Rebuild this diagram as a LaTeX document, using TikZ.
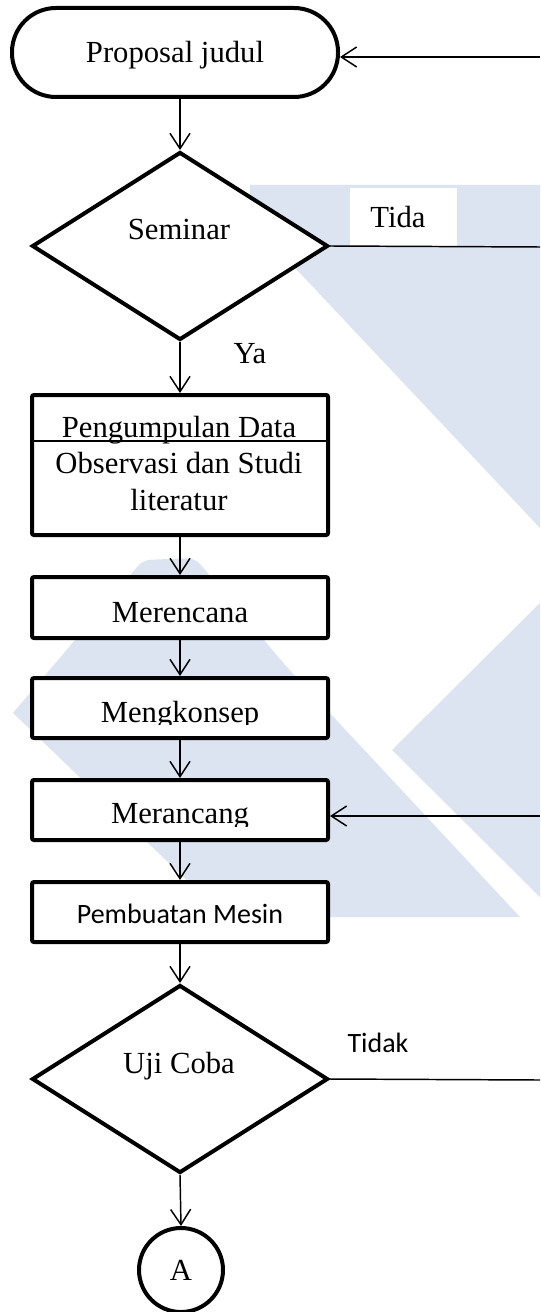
\documentclass[tikz,border=0pt]{standalone}
\usepackage{fontspec}
\setmainfont{Liberation Serif}
\newfontfamily\calibri{Carlito}
\usetikzlibrary{shapes.geometric,arrows.meta,calc}
\definecolor{wmblue}{RGB}{220,227,241}

\begin{document}
\begin{tikzpicture}[x=0.75pt,y=-0.75pt,
  every node/.style={inner sep=0pt},
  stepbox/.style={draw, line width=3pt, fill=white, rounded corners=1.5pt, minimum width=222pt},
  decision/.style={draw, diamond, line width=3pt, fill=white, minimum width=222pt, minimum height=141pt},
  txt/.style={anchor=base, font=\fontsize{23}{28}\selectfont},
  stxt/.style={anchor=base, font=\calibri\fontsize{21}{25}\selectfont},
  flow/.style={line width=1.1pt, -{Straight Barb[length=11.5pt,width=15pt,line width=1.1pt]}},
  link/.style={line width=1.1pt},
]
% canvas
\fill[white] (0,0) rectangle (540,1312);
\useasboundingbox (0,0) rectangle (540,1312);

% background logo shapes
\fill[wmblue] (250,185) -- (540,185) -- (540,528) -- (250,220) -- cycle;
\fill[wmblue] (392,750) -- (540,603) -- (540,897) -- cycle;
\fill[wmblue, rounded corners=6pt] (13,713) -- (143,560) -- (195,558) -- (285,665)
   [sharp corners] -- (520,917) -- (225,917) -- cycle;

% start
\node[draw, line width=3pt, fill=white, rounded corners=33pt,
      minimum width=244.5pt, minimum height=66.75pt] (term) at (175,52.5) {};
\node[txt] (termT) at (175,63) {Proposal judul};

% first decision
\node[decision] (seminar) at (180,246) {};
\node[txt] (seminarT) at (179,240) {Seminar};

% steps
\node[stepbox, minimum height=105pt] (data) at (180,465) {};
\draw[line width=0.8pt] ($(data.west)+(0,-24)$) -- ($(data.east)+(0,-24)$);
\node[txt] (dataT1) at (179,437) {Pengumpulan Data};
\node[txt] (dataT2) at (179,473) {Observasi dan Studi};
\node[txt] (dataT3) at (179,510) {literatur};

\node[stepbox, minimum height=45.75pt] (rencana) at (180,607.5) {};
\node[txt] (rencanaT) at (180,622) {Merencana};

\node[stepbox, minimum height=45pt] (konsep) at (180,708) {};
\begin{scope}
  \clip (32,678) rectangle (328,724);
  \node[txt] (konsepT) at (180,722) {Mengkonsep};
\end{scope}

\node[stepbox, minimum height=45pt] (rancang) at (180,810) {};
\begin{scope}
  \clip (32,780) rectangle (328,826);
  \node[txt] (rancangT) at (180,823) {Merancang};
\end{scope}

\node[stepbox, minimum height=45pt] (mesin) at (180,912) {};
\node[stxt] (mesinT) at (180,923) {Pembuatan Mesin};

% second decision
\node[decision] (uji) at (180,1079) {};
\node[txt] (ujiT) at (179,1073) {Uji Coba};

% connector
\node[draw, circle, line width=3pt, minimum size=63pt, font=\fontsize{23}{28}\selectfont] (conA) at (181,1270) {A};

% labels
\node[fill=white, minimum width=80.25pt, minimum height=43.5pt] (tidaBox) at (403.5,217) {};
\node[txt] (tidaT) at (398,228) {Tida};
\node[txt] (yaT) at (250,363) {Ya};
\node[stxt] (tidakT) at (378,1052) {Tidak};

% right-hand ends of the return lines
\coordinate (e1) at (540,57);
\coordinate (e2) at (540,247);
\coordinate (e3) at (540,816);
\coordinate (e4) at (540,1080);

% flow
\draw[flow] (term.south -| seminar.north) -- (seminar.north);
\draw[flow] (seminar.south) -- (data.north);
\draw[flow] (data.south) -- (rencana.north);
\draw[flow] (rencana.south) -- (konsep.north);
\draw[flow] (konsep.south) -- (rancang.north);
\draw[flow] (rancang.south) -- (mesin.north);
\draw[flow] (mesin.south) -- (uji.north);
\draw[flow] (uji.south) -- (conA.north);

% return lines
\draw[flow] (e1) -- (e1 -| term.east);
\draw[link] (seminar.east) -- (e2);
\draw[flow] (e3) -- (e3 -| rancang.east);
\draw[link] (uji.east) -- (e4);
\end{tikzpicture}
\end{document}
